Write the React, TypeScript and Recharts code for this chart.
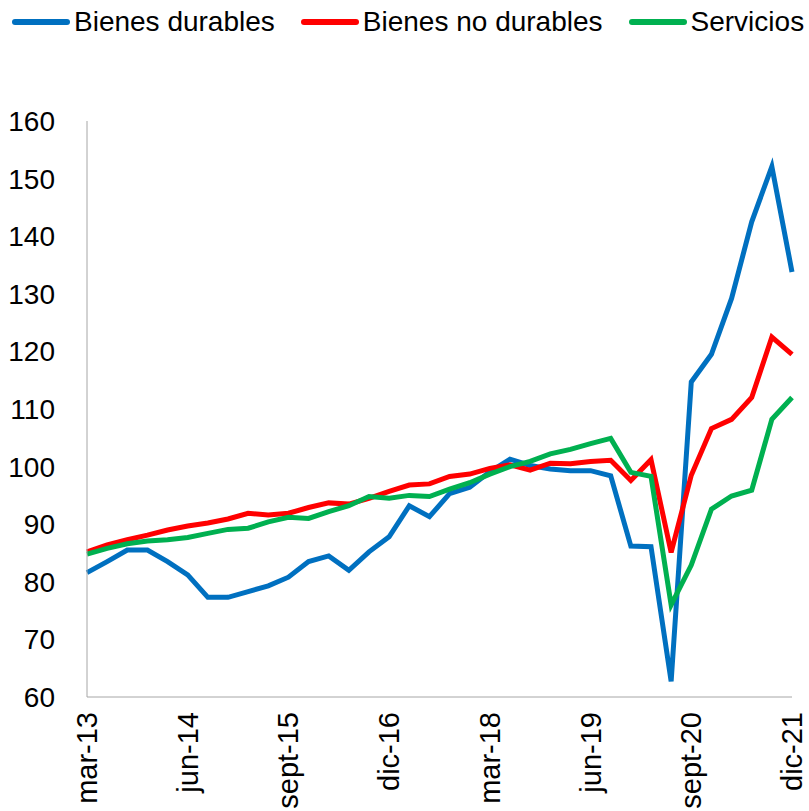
import { LineChart, Line, XAxis, YAxis, Legend } from 'recharts';

// quarters from mar-13 to dic-21
const years = ['13', '14', '15', '16', '17', '18', '19', '20', '21'];
const months = ['mar', 'jun', 'sept', 'dic'];
const quarters = years.flatMap((y) => months.map((m) => `${m}-${y}`));

const durables = [
    81.6, 83.5, 85.5, 85.5, 83.5, 81.2, 77.3, 77.3, 78.3, 79.3, 80.8, 83.5,
    84.5, 82.0, 85.2, 87.8, 93.2, 91.3, 95.3, 96.4, 99.1, 101.3, 100.2, 99.6,
    99.3, 99.3, 98.4, 86.2, 86.1, 62.7, 114.7, 119.5, 129.2, 142.5, 152.1, 133.8,
];
const noDurables = [
    85.2, 86.4, 87.3, 88.1, 89.0, 89.7, 90.2, 90.9, 91.9, 91.6, 91.9, 92.9,
    93.7, 93.5, 94.5, 95.7, 96.8, 97.0, 98.3, 98.7, 99.7, 100.3, 99.4, 100.6,
    100.5, 100.9, 101.1, 97.6, 101.2, 85.1, 98.5, 106.6, 108.2, 112.0, 122.5, 119.5,
];
const servicios = [
    84.8, 85.8, 86.6, 87.1, 87.3, 87.7, 88.4, 89.1, 89.3, 90.4, 91.2, 91.0,
    92.2, 93.2, 94.8, 94.5, 95.0, 94.8, 96.1, 97.2, 98.7, 100.0, 100.9, 102.2,
    103.0, 104.0, 104.9, 99.0, 98.3, 76.0, 82.9, 92.6, 94.9, 95.9, 108.2, 112.0,
];
const yTicks = [60, 70, 80, 90, 100, 110, 120, 130, 140, 150, 160];

const series = [
    { key: 'durables', name: 'Bienes durables', color: '#0070C0' },
    { key: 'noDurables', name: 'Bienes no durables', color: '#FF0000' },
    { key: 'servicios', name: 'Servicios', color: '#00B050' },
];

const data = quarters.map((q, i) => ({
    q,
    durables: durables[i],
    noDurables: noDurables[i],
    servicios: servicios[i],
}));

const font = "'Liberation Sans', Arial, sans-serif";

function XTick({ x, y, payload }: any) {
    return (
        <text x={x} y={y} transform={`rotate(-90, ${x}, ${y})`} textAnchor="end"
            dominantBaseline="central" fontSize={29} fontFamily={font} fill="#000">
            {payload.value}
        </text>
    );
}

function LegendBox() {
    return (
        <div style={{ display: 'flex', alignItems: 'center', height: 44, paddingLeft: 12, fontFamily: font, fontSize: 28, color: '#000', whiteSpace: 'nowrap' }}>
            {series.map((s) => (
                <div key={s.key} style={{ display: 'flex', alignItems: 'center', marginRight: 26 }}>
                    <span style={{ display: 'inline-block', width: 58, height: 6, borderRadius: 3, background: s.color, marginRight: 4 }}></span>
                    {s.name}
                </div>
            ))}
        </div>
    );
}

export default function App() {
    return (
        <div style={{ position: 'absolute', left: 0, top: 0, background: '#fff' }}>
            <LineChart width={809} height={811} data={data} margin={{ top: 121, right: 17, left: 0, bottom: 0 }}>
                <Legend layout="horizontal" verticalAlign="middle" align="center" content={<LegendBox />}
                    wrapperStyle={{ top: 0, left: 0, width: 809 }} />
                <XAxis dataKey="q" interval={4} height={114} tickSize={0} tickMargin={15}
                    stroke="#a6a6a6" tick={<XTick />} />
                <YAxis domain={[60, 160]} ticks={yTicks} width={87} tickSize={0} tickMargin={32}
                    stroke="#a6a6a6" tick={{ fill: '#000', fontSize: 28, fontFamily: font }} />
                {series.map((s) => (
                    <Line key={s.key} dataKey={s.key} name={s.name} stroke={s.color} strokeWidth={5}
                        type="linear" dot={false} isAnimationActive={false} />
                ))}
            </LineChart>
        </div>
    );
}
